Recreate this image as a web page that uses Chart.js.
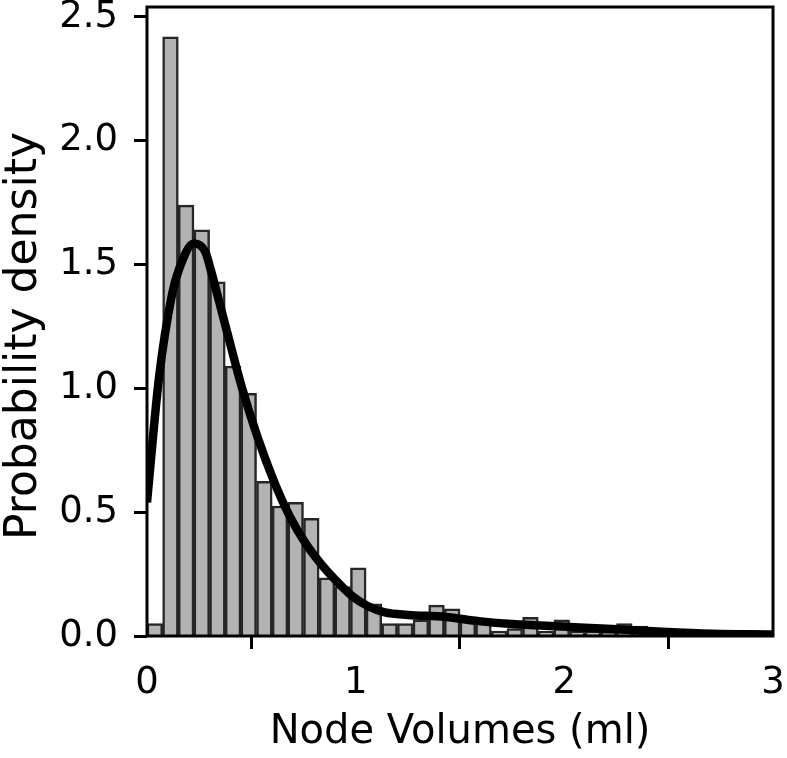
<!DOCTYPE html>
<html>
<head>
<meta charset="utf-8">
<script src="https://cdn.jsdelivr.net/npm/chart.js@4"></script>
<style>
  html, body { margin: 0; padding: 0; background: #fff; }
  #wrap { width: 787px; height: 758px; }
</style>
</head>
<body>
<div id="wrap"><canvas id="hist" width="787" height="758"></canvas></div>
<script>
// histogram: 40 bins of 0.075 ml between 0 and 3
const binWidth = 0.075;
const binDensity = [
  0.05, 2.42, 1.74, 1.64, 1.43, 1.09, 0.98, 0.625, 0.525, 0.54,
  0.475, 0.235, 0.2, 0.275, 0.13, 0.05, 0.05, 0.065, 0.125, 0.11,
  0.07, 0.06, 0.02, 0.03, 0.075, 0.02, 0.065, 0.02, 0.02, 0.015,
  0.05, 0.04, 0.027, 0.02, 0.027, 0.01, 0.01, 0.005, 0.005, 0.005,
];

// fitted density curve
const curveX = [0, 0.057, 0.12, 0.153, 0.225, 0.28, 0.305, 0.38, 0.456, 0.531,
  0.606, 0.683, 0.76, 0.835, 0.91, 0.985, 1.06, 1.14, 1.25, 1.43,
  1.59, 1.75, 1.99, 2.23, 2.47, 2.71, 3.0];
const curveY = [0.54, 1.04, 1.38, 1.48, 1.585, 1.55, 1.48, 1.24, 1.0, 0.8,
  0.63, 0.485, 0.374, 0.29, 0.22, 0.16, 0.12, 0.095, 0.085, 0.077,
  0.06, 0.048, 0.038, 0.028, 0.017, 0.009, 0.006];

const xTicks = [0, 1, 2, 3];
const yTicks = [0, 0.5, 1.0, 1.5, 2.0, 2.5];
const yLabel = "Probability density";

Chart.defaults.font.family = "'DejaVu Sans', sans-serif";
Chart.defaults.color = "#000";

// black box round the plot area, like matplotlib spines, plus the y label
const frame = {
  id: "frame",
  afterDatasetsDraw(chart) {
    const { ctx, chartArea: a } = chart;
    ctx.save();
    ctx.strokeStyle = "#000";
    ctx.lineWidth = 3;
    ctx.strokeRect(a.left, a.top, a.right - a.left, a.bottom - a.top);
    ctx.restore();
  },
  afterDraw(chart) {
    const ctx = chart.ctx;
    ctx.save();
    ctx.translate(36, 336);
    ctx.rotate(-Math.PI / 2);
    ctx.font = "44px 'DejaVu Sans'";
    ctx.fillStyle = "#000";
    ctx.textAlign = "center";
    ctx.textBaseline = "alphabetic";
    ctx.fillText(yLabel, 0, 0);
    ctx.restore();
  },
};

const tickGrid = {
  display: true,
  drawOnChartArea: false,
  drawTicks: true,
  tickLength: 13,
  tickWidth: 3,
  tickColor: "#000",
};

new Chart(document.getElementById("hist"), {
  type: "bar",
  data: {
    datasets: [
      {
        type: "line",
        data: curveX.map((x, i) => ({ x, y: curveY[i] })),
        borderColor: "#000",
        borderWidth: 8.5,
        pointRadius: 0,
        cubicInterpolationMode: "monotone",
        order: 0,
      },
      {
        type: "bar",
        data: binDensity.map((d, i) => ({ x: (i + 0.5) * binWidth, y: d })),
        backgroundColor: "#b3b3b3",
        borderColor: "#262626",
        borderWidth: 2.5,
        borderSkipped: "bottom",
        barPercentage: 1,
        categoryPercentage: 1,
        order: 1,
      },
    ],
  },
  options: {
    responsive: false,
    animation: false,
    layout: { padding: { top: 7, right: 14, left: 0, bottom: 0 } },
    plugins: { legend: { display: false }, tooltip: { enabled: false } },
    scales: {
      x: {
        type: "linear",
        min: 0,
        max: 3,
        offset: false,
        border: { display: false },
        grid: tickGrid,
        afterBuildTicks: (s) => { s.ticks = xTicks.map((v) => ({ value: v })); },
        afterFit: (s) => { s.height = 122; s.paddingLeft = 0; s.paddingRight = 0; },
        ticks: { font: { size: 37 }, padding: 12, maxRotation: 0, callback: (v) => String(v) },
        title: {
          display: true,
          text: "Node Volumes (ml)",
          font: { size: 40 },
          padding: { top: 0, bottom: 1 },
        },
      },
      y: {
        min: 0,
        max: 2.54,
        border: { display: false },
        grid: tickGrid,
        afterBuildTicks: (s) => { s.ticks = yTicks.map((v) => ({ value: v })); },
        afterFit: (s) => { s.width = 147; s.paddingTop = 0; s.paddingBottom = 0; },
        ticks: { font: { size: 37 }, padding: 16, callback: (v) => v.toFixed(1) },
      },
    },
  },
  plugins: [frame],
});
</script>
</body>
</html>
